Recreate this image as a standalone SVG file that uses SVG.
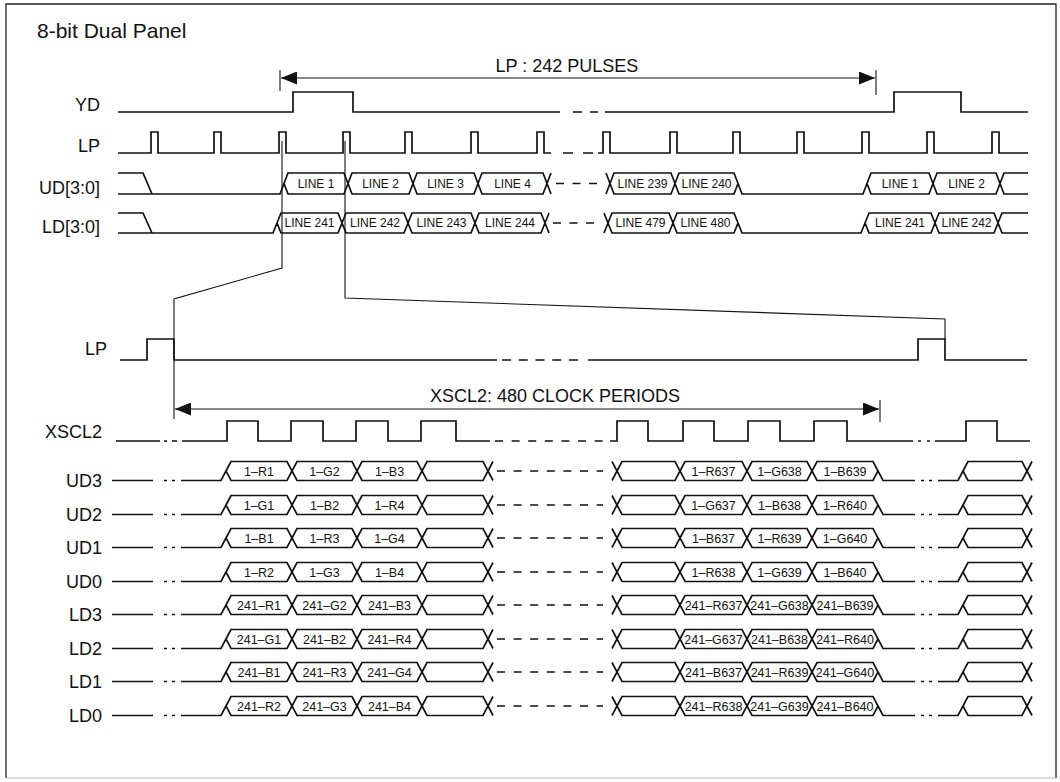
<svg xmlns="http://www.w3.org/2000/svg" width="1060" height="782" viewBox="0 0 1060 782">
<style>
.w{fill:none;stroke:#111;stroke-width:1.7;stroke-linejoin:miter}
.ds{fill:none;stroke:#111;stroke-width:1.7;stroke-dasharray:8 8.5}
.c{fill:none;stroke:#151515;stroke-width:1.1}
.lbl{font-family:"Liberation Sans",Arial,Helvetica,sans-serif;font-size:18px;fill:#111;text-anchor:end}
.ttl{font-family:"Liberation Sans",Arial,Helvetica,sans-serif;font-size:21px;fill:#111}
.dim{font-family:"Liberation Sans",Arial,Helvetica,sans-serif;font-size:18px;fill:#111;text-anchor:middle}
.bt{font-family:"Liberation Sans",Arial,Helvetica,sans-serif;font-size:12px;fill:#111;text-anchor:middle}
.bb{font-family:"Liberation Sans",Arial,Helvetica,sans-serif;font-size:12.5px;fill:#111;text-anchor:middle}
</style>
<defs>
<marker id="ah" viewBox="0 0 16 13" refX="16" refY="6.5" markerWidth="16" markerHeight="13" markerUnits="userSpaceOnUse" orient="auto-start-reverse">
<path d="M0,0 L16,6.5 L0,13 Z" fill="#111"/>
</marker>
<g id="row">
<path class="w" d="M112,9.5 H153 M164,9.5 H167 M172,9.5 H175 M181,9.5 H221 L226,0
M226,0 L231,-9.5 H287 L292,0 L287,9.5 H231 Z
M292,0 L297,-9.5 H352 L357,0 L352,9.5 H297 Z
M357,0 L362,-9.5 H417 L422,0 L417,9.5 H362 Z
M422,0 L427,-9.5 H483 L488,0 L483,9.5 H427 Z
M488,0 L493,-9.5 M488,0 L493,9.5
M612,-9.5 L617,0 L612,9.5
M617,0 L622,-9.5 H675 L680,0 L675,9.5 H622 Z
M680,0 L685,-9.5 H742 L747,0 L742,9.5 H685 Z
M747,0 L752,-9.5 H807 L812,0 L807,9.5 H752 Z
M812,0 L817,-9.5 H873 L878,0 L873,9.5 H817 Z
M878,0 L883,9.5 H915 M921,9.5 H924 M929,9.5 H932 M938,9.5 H958 L963,0
M963,0 L968,-9.5 H1022 L1027,0 L1022,9.5 H968 Z
M1027,0 L1032,-9.5 M1027,0 L1032,9.5"/>
<path class="ds" style="stroke-dasharray:8 8.6" d="M497,0 H603"/>
</g>
</defs>
<rect width="1060" height="782" fill="#fff"/>
<g id="frame">
<path d="M6,778 V4 H1056 V778" fill="none" stroke="#222" stroke-width="1.3"/>
<path d="M6,778 H1056" fill="none" stroke="#bbb" stroke-width="1"/>
</g>
<g id="title"><text class="ttl" x="37" y="38">8-bit Dual Panel</text></g>

<g id="sig-YD">
<text class="lbl" x="100" y="111">YD</text>
<path class="w" d="M118,112 H293 V92 H353 V112 H560 M573,112 H582 M590,112 H598 M605,112 H894 V92 H961 V112 H1028"/>
</g>
<g id="sig-LP-top">
<text class="lbl" x="100" y="152">LP</text>
<path class="w" d="M118,153 H151 V132 H158 V153 H214 V132 H221 V153 H279 V132 H286 V153 H343 V132 H350 V153 H405 V132 H412 V153 H471 V132 H478 V153 H537 V132 H544 V153 H551 M563,153 H573 M583,153 H593 M598,153 H603 V132 H610 V153 H670 V132 H677 V153 H733 V132 H740 V153 H797 V132 H804 V153 H862 V132 H869 V153 H927 V132 H934 V153 H992 V132 H999 V153 H1028"/>
</g>
<g id="sig-UD30">
<text class="lbl" x="100" y="194">UD[3:0]</text>
<path class="w" d="M118,173 H143 L152,194 M118,194 H280 L284,183.5
M284,183.5 L288,173 H344 L348,183.5 L344,194 H288 Z
M348,183.5 L352,173 H409 L413,183.5 L409,194 H352 Z
M413,183.5 L417,173 H474 L478,183.5 L474,194 H417 Z
M478,183.5 L482,173 H543 L547,183.5 L543,194 H482 Z
M547,183.5 L551,173 M547,183.5 L551,194
M606,173 L610,183.5 L606,194
M610,183.5 L614,173 H671 L675,183.5 L671,194 H614 Z
M675,183.5 L679,173 H734 L738,183.5 L734,194 H679 Z
M738,183.5 L742,194 H863 L867,183.5
M867,183.5 L871,173 H929 L933,183.5 L929,194 H871 Z
M933,183.5 L937,173 H996 L1000,183.5 L996,194 H937 Z
M1000,183.5 L1004,173 H1028 M1000,183.5 L1004,194 H1028"/>
<path class="ds" d="M556,183.5 H597"/>
<text class="bt" x="316" y="188">LINE 1</text>
<text class="bt" x="380.5" y="188">LINE 2</text>
<text class="bt" x="445.5" y="188">LINE 3</text>
<text class="bt" x="512.5" y="188">LINE 4</text>
<text class="bt" x="642.5" y="188">LINE 239</text>
<text class="bt" x="706.5" y="188">LINE 240</text>
<text class="bt" x="900" y="188">LINE 1</text>
<text class="bt" x="966.5" y="188">LINE 2</text>
</g>
<g id="sig-LD30">
<text class="lbl" x="100" y="233">LD[3:0]</text>
<path class="w" d="M118,213 H143 L152,233 M118,233 H273 L277,223
M277,223 L281,213 H338 L342,223 L338,233 H281 Z
M342,223 L346,213 H404 L408,223 L404,233 H346 Z
M408,223 L412,213 H471 L475,223 L471,233 H412 Z
M475,223 L479,213 H541 L545,223 L541,233 H479 Z
M545,223 L549,213 M545,223 L549,233
M604,213 L608,223 L604,233
M608,223 L612,213 H669 L673,223 L669,233 H612 Z
M673,223 L677,213 H734 L738,223 L734,233 H677 Z
M738,223 L742,233 H861 L865,223
M865,223 L869,213 H931 L935,223 L931,233 H869 Z
M935,223 L939,213 H994 L998,223 L994,233 H939 Z
M998,223 L1002,213 H1028 M998,223 L1002,233 H1028"/>
<path class="ds" d="M553,223 H594"/>
<text class="bt" x="309.5" y="227.3">LINE 241</text>
<text class="bt" x="375" y="227.3">LINE 242</text>
<text class="bt" x="441.5" y="227.3">LINE 243</text>
<text class="bt" x="510" y="227.3">LINE 244</text>
<text class="bt" x="640.5" y="227.3">LINE 479</text>
<text class="bt" x="705.5" y="227.3">LINE 480</text>
<text class="bt" x="900" y="227.3">LINE 241</text>
<text class="bt" x="966.5" y="227.3">LINE 242</text>
</g>

<g id="sig-LP-bottom">
<text class="lbl" x="107" y="355">LP</text>
<path class="w" d="M120,360 H147 V339 H174 V360 H497 M588,360 H918 V339 H945 V360 H1027"/>
<path class="ds" style="stroke-dasharray:9 7.75" d="M502,360 H578"/>
</g>
<g id="sig-XSCL2">
<text class="lbl" x="102" y="438">XSCL2</text>
<path class="w" d="M116,441 H160 M164,441 H167 M172,441 H177 M182,441 H227 V421 H258 V441 H291 V421 H323 V441 H356 V421 H388 V441 H421 V421 H456 V441 H490 M610,441 H617 V421 H648 V441 H683 V421 H714 V441 H748 V421 H780 V441 H814 V421 H847 V441 H913 M918,441 H921 M927,441 H930 M935,441 H966 V421 H997 V441 H1030"/>
<path class="ds" style="stroke-dasharray:8 8.6" d="M495,441 H603"/>
</g>

<g id="sig-UD3">
<text class="lbl" x="102" y="487">UD3</text>
<use href="#row" transform="translate(0,471)"/>
<text class="bb" x="259" y="475.5">1–R1</text><text class="bb" x="324.5" y="475.5">1–G2</text><text class="bb" x="389.5" y="475.5">1–B3</text>
<text class="bb" x="713.5" y="475.5">1–R637</text><text class="bb" x="779.5" y="475.5">1–G638</text><text class="bb" x="845" y="475.5">1–B639</text>
</g>
<g id="sig-UD2">
<text class="lbl" x="102" y="521">UD2</text>
<use href="#row" transform="translate(0,505)"/>
<text class="bb" x="259" y="509.5">1–G1</text><text class="bb" x="324.5" y="509.5">1–B2</text><text class="bb" x="389.5" y="509.5">1–R4</text>
<text class="bb" x="713.5" y="509.5">1–G637</text><text class="bb" x="779.5" y="509.5">1–B638</text><text class="bb" x="845" y="509.5">1–R640</text>
</g>
<g id="sig-UD1">
<text class="lbl" x="102" y="554">UD1</text>
<use href="#row" transform="translate(0,538)"/>
<text class="bb" x="259" y="542.5">1–B1</text><text class="bb" x="324.5" y="542.5">1–R3</text><text class="bb" x="389.5" y="542.5">1–G4</text>
<text class="bb" x="713.5" y="542.5">1–B637</text><text class="bb" x="779.5" y="542.5">1–R639</text><text class="bb" x="845" y="542.5">1–G640</text>
</g>
<g id="sig-UD0">
<text class="lbl" x="102" y="588">UD0</text>
<use href="#row" transform="translate(0,572)"/>
<text class="bb" x="259" y="576.5">1–R2</text><text class="bb" x="324.5" y="576.5">1–G3</text><text class="bb" x="389.5" y="576.5">1–B4</text>
<text class="bb" x="713.5" y="576.5">1–R638</text><text class="bb" x="779.5" y="576.5">1–G639</text><text class="bb" x="845" y="576.5">1–B640</text>
</g>
<g id="sig-LD3">
<text class="lbl" x="102" y="621">LD3</text>
<use href="#row" transform="translate(0,605)"/>
<text class="bb" x="259" y="609.5">241–R1</text><text class="bb" x="324.5" y="609.5">241–G2</text><text class="bb" x="389.5" y="609.5">241–B3</text>
<text class="bb" x="713.5" y="609.5">241–R637</text><text class="bb" x="779.5" y="609.5">241–G638</text><text class="bb" x="845" y="609.5">241–B639</text>
</g>
<g id="sig-LD2">
<text class="lbl" x="102" y="655">LD2</text>
<use href="#row" transform="translate(0,639)"/>
<text class="bb" x="259" y="643.5">241–G1</text><text class="bb" x="324.5" y="643.5">241–B2</text><text class="bb" x="389.5" y="643.5">241–R4</text>
<text class="bb" x="713.5" y="643.5">241–G637</text><text class="bb" x="779.5" y="643.5">241–B638</text><text class="bb" x="845" y="643.5">241–R640</text>
</g>
<g id="sig-LD1">
<text class="lbl" x="102" y="688">LD1</text>
<use href="#row" transform="translate(0,672)"/>
<text class="bb" x="259" y="676.5">241–B1</text><text class="bb" x="324.5" y="676.5">241–R3</text><text class="bb" x="389.5" y="676.5">241–G4</text>
<text class="bb" x="713.5" y="676.5">241–B637</text><text class="bb" x="779.5" y="676.5">241–R639</text><text class="bb" x="845" y="676.5">241–G640</text>
</g>
<g id="sig-LD0">
<text class="lbl" x="102" y="722">LD0</text>
<use href="#row" transform="translate(0,706)"/>
<text class="bb" x="259" y="710.5">241–R2</text><text class="bb" x="324.5" y="710.5">241–G3</text><text class="bb" x="389.5" y="710.5">241–B4</text>
<text class="bb" x="713.5" y="710.5">241–R638</text><text class="bb" x="779.5" y="710.5">241–G639</text><text class="bb" x="845" y="710.5">241–B640</text>
</g>

<g id="connectors">
<path class="c" d="M282,141 V268 L174,299 V419"/>
<path class="c" d="M345,141 V298 L945,319 V339"/>
<path class="c" d="M280,70 V91 M876,70 V95"/>
<path class="c" d="M281,78 H875" marker-start="url(#ah)" marker-end="url(#ah)"/>
<text class="dim" x="567" y="72">LP : 242 PULSES</text>
<path class="c" d="M880,400 V422"/>
<path class="c" d="M175,409 H879" marker-start="url(#ah)" marker-end="url(#ah)"/>
<text class="dim" x="555" y="402">XSCL2: 480 CLOCK PERIODS</text>
</g>
</svg>
